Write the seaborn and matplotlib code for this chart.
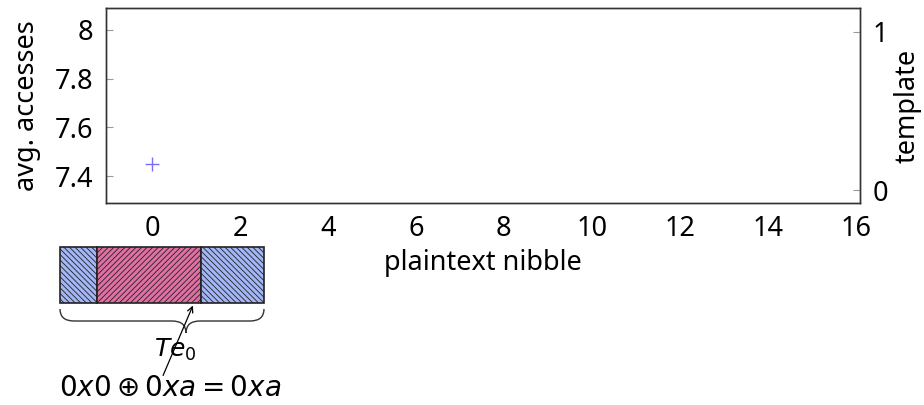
import numpy as np
import pandas as pd
import matplotlib
matplotlib.use("Agg")
import matplotlib.pyplot as plt
import seaborn as sns
from matplotlib.patches import Rectangle, PathPatch
from matplotlib.path import Path

# data
nibble = [0]
avg_accesses = [7.45]
xticks = [0, 2, 4, 6, 8, 10, 12, 14, 16]
yticks = [7.4, 7.6, 7.8, 8.0]
template_ticks = [0, 1]

# cache-line strip below the chart: (width in px, colour, hatch)
seg_widths = [37, 104, 63]
seg_colors = ["#a3b6f5", "#e070a3", "#a3b6f5"]
seg_hatch = ["\\" * 6, "/" * 6, "\\" * 6]
brace_label = r"$Te_0$"
xor_label = r"$0x0 \oplus 0xa = 0xa$"

sns.set_style("white")
plt.rcParams["font.family"] = ["Noto Sans", "DejaVu Sans"]
plt.rcParams["mathtext.fontset"] = "dejavusans"
plt.rcParams["hatch.color"] = "#444444"
plt.rcParams["hatch.linewidth"] = 0.6
plt.rcParams["text.color"] = "black"
plt.rcParams["axes.labelcolor"] = "black"
plt.rcParams["xtick.labelcolor"] = "black"
plt.rcParams["ytick.labelcolor"] = "black"

fs = 19.5

fig = plt.figure(figsize=(9.24, 4.05), dpi=100)
ax = fig.add_axes([106 / 924, 1 - 203 / 405, 754 / 924, 195 / 405])

df = pd.DataFrame({"nibble": nibble, "acc": avg_accesses})
sns.scatterplot(data=df, x="nibble", y="acc", marker="+", s=90,
                color="#7a6cff", linewidth=1.0, ax=ax)

ax.set_xlim(-1.05, 16.1)
ax.set_ylim(7.29, 8.09)
ax.set_xticks(xticks)
ax.set_yticks(yticks)
ax.set_yticklabels(["7.4", "7.6", "7.8", "8"])
ax.set_xlabel("plaintext nibble", fontsize=fs, labelpad=4)
ax.set_ylabel("avg. accesses", fontsize=fs, labelpad=10)
ax.tick_params(direction="in", length=5, color="#999999", labelsize=fs,
               width=0.8, pad=9)
for s in ax.spines.values():
    s.set_color("#333333")
    s.set_linewidth(1.0)

ax_r = ax.twinx()
ax_r.set_ylim(-0.08, 1.15)
ax_r.set_yticks(template_ticks)
ax_r.set_ylabel("template", fontsize=fs, labelpad=4)
ax_r.tick_params(direction="in", length=5, color="#999999", labelsize=fs,
                 width=0.8, pad=9)
for s in ax_r.spines.values():
    s.set_color("#333333")
    s.set_linewidth(1.0)

# schematic underneath, in pixel coords
ov = fig.add_axes([0, 0, 1, 1])
ov.set_xlim(0, 924)
ov.set_ylim(405, 0)
ov.axis("off")
ov.patch.set_alpha(0)

x0, y0, h = 60, 247, 56
x = x0
for w, c, hp in zip(seg_widths, seg_colors, seg_hatch):
    ov.add_patch(Rectangle((x, y0), w, h, facecolor=c, edgecolor="#222222",
                           hatch=hp, linewidth=1.2))
    x += w
x1 = x

# curly brace
mid = 186
yb = 309
verts = [(x0, yb), (x0, yb + 12), (x0 + 14, yb + 12),
         (mid - 14, yb + 12), (mid, yb + 12), (mid, yb + 24),
         (mid, yb + 12), (mid + 14, yb + 12),
         (x1 - 14, yb + 12), (x1, yb + 12), (x1, yb)]
codes = [Path.MOVETO, Path.CURVE3, Path.CURVE3,
         Path.LINETO, Path.CURVE3, Path.CURVE3,
         Path.CURVE3, Path.CURVE3,
         Path.LINETO, Path.CURVE3, Path.CURVE3]
ov.add_patch(PathPatch(Path(verts, codes), facecolor="none",
                       edgecolor="#333333", linewidth=1.0))
ov.text(175, 350, brace_label, fontsize=18, ha="center", va="center")

ov.annotate("", xy=(194, 303), xytext=(162, 378),
            arrowprops=dict(arrowstyle="->", color="black", lw=0.9))
ov.text(170, 389, xor_label, fontsize=20, ha="center", va="center")

fig.savefig("out.png", dpi=100)
